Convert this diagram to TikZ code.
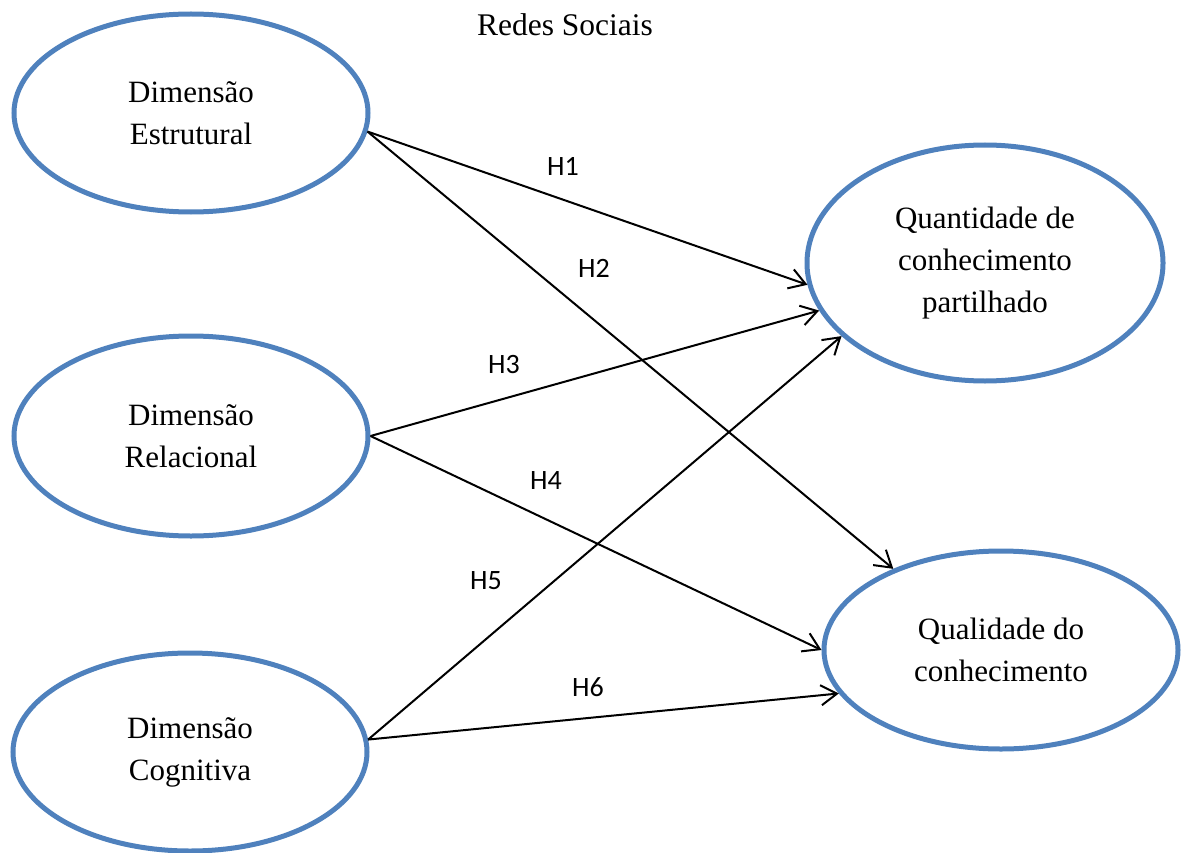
\documentclass[tikz,border=0pt]{standalone}
\usepackage{fontspec}
\setmainfont{Liberation Serif}
\newfontfamily\labelfont{Carlito}
\usetikzlibrary{shapes.geometric, arrows.meta}
\definecolor{ellblue}{HTML}{4F81BD}

\begin{document}
\begin{tikzpicture}[x=1pt, y=-1pt,
    construct/.style={ellipse, draw=ellblue, line width=5pt, inner sep=0pt, align=center, minimum width=354pt, minimum height=198pt, font=\fontsize{31}{42}\selectfont},
    hyp/.style={font=\labelfont\fontsize{28}{30}\selectfont},
    link/.style={line width=2pt, -{Straight Barb[length=16pt, width=20pt]}}
]
\useasboundingbox (0,0) rectangle (1182,853);

% Title
\node[anchor=base, font=\fontsize{31.5}{38}\selectfont] (title) at (565,36) {Redes Sociais};

% Constructs
\node[construct] (estr) at (191,113)  {Dimensão\\Estrutural};
\node[construct, minimum height=200pt] (rel) at (191,436) {Dimensão\\Relacional};
\node[construct] (cog) at (190,752)   {Dimensão\\Cognitiva};
\node[construct, minimum width=356pt, minimum height=236pt] (quant) at (985,263) {Quantidade de\\conhecimento\\partilhado};
\node[construct] (qual) at (1001,650) {Qualidade do\\conhecimento};

% Hypotheses
\node[hyp] (h1) at (563,166) {H1};
\node[hyp] (h2) at (594,268) {H2};
\node[hyp] (h3) at (504,365) {H3};
\node[hyp] (h4) at (546,481) {H4};
\node[hyp] (h5) at (486,581) {H5};
\node[hyp] (h6) at (588,687) {H6};

% Paths (lines)
\draw[link] (estr.-6) -- (quant.187);
\draw[link] (estr.-6) -- (qual.143);
\draw[link] (rel.east) -- (quant.196);
\draw[link] (rel.east) -- (qual.west);
\draw[link] (cog.4) -- (quant.207);
\draw[link] (cog.4) -- (qual.195);
\end{tikzpicture}
\end{document}
